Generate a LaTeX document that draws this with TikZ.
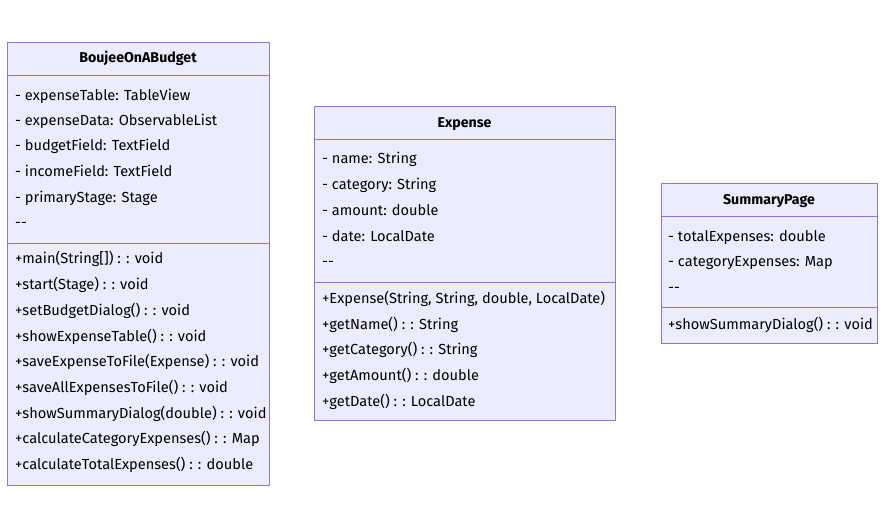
\documentclass[tikz,border=0pt]{standalone}
\usepackage{fontspec}
\setmainfont{Fira Sans}
\definecolor{cfill}{HTML}{ECECFF}
\definecolor{cline}{HTML}{9370DB}
\begin{document}
\begin{tikzpicture}[x=1pt,y=-1pt,
  classbox/.style={draw=cline,fill=cfill,line width=0.9pt,inner sep=0pt,anchor=north west},
  member/.style={anchor=base west,inner sep=0pt,yshift=-5pt,font=\fontsize{14.6}{16}\selectfont,text=black},
  title/.style={anchor=base,inner sep=0pt,yshift=-5pt,font=\fontsize{14.2}{16}\selectfont\bfseries,text=black},
  divider/.style={draw=cline,line width=0.9pt}]
\useasboundingbox (0,0) rectangle (885,527);
% BoujeeOnABudget
\node[classbox,minimum width=262pt,minimum height=443pt] (b1) at (7,42) {};
\node[title] (b1t) at (138,58) {BoujeeOnABudget};
\draw[divider] (b1.west |- 0,75) -- (b1.east |- 0,75);
\draw[divider] (b1.west |- 0,243) -- (b1.east |- 0,243);
\node[member] (b1a1) at (15,95) {- expenseTable: TableView};
\node[member] (b1a2) at (15,120) {- expenseData: ObservableList};
\node[member] (b1a3) at (15,145) {- budgetField: TextField};
\node[member] (b1a4) at (15,171) {- incomeField: TextField};
\node[member] (b1a5) at (15,197) {- primaryStage: Stage};
\node[member] (b1a6) at (15,222) {-{}-};
\node[member] (b1m1) at (15,258) {+main(String[]) : : void};
\node[member] (b1m2) at (15,284) {+start(Stage) : : void};
\node[member] (b1m3) at (15,310) {+setBudgetDialog() : : void};
\node[member] (b1m4) at (15,336) {+showExpenseTable() : : void};
\node[member] (b1m5) at (15,361) {+saveExpenseToFile(Expense) : : void};
\node[member] (b1m6) at (15,387) {+saveAllExpensesToFile() : : void};
\node[member] (b1m7) at (15,413) {+showSummaryDialog(double) : : void};
\node[member] (b1m8) at (15,438) {+calculateCategoryExpenses() : : Map};
\node[member] (b1m9) at (15,464) {+calculateTotalExpenses() : : double};
% Expense
\node[classbox,minimum width=301pt,minimum height=314pt] (b2) at (314,106) {};
\node[title] (b2t) at (464.5,122) {Expense};
\draw[divider] (b2.west |- 0,139) -- (b2.east |- 0,139);
\draw[divider] (b2.west |- 0,282) -- (b2.east |- 0,282);
\node[member] (b2a1) at (322,158) {- name: String};
\node[member] (b2a2) at (322,184) {- category: String};
\node[member] (b2a3) at (322,210) {- amount: double};
\node[member] (b2a4) at (322,236) {- date: LocalDate};
\node[member] (b2a5) at (322,261) {-{}-};
\node[member] (b2m1) at (322,298) {+Expense(String, String, double, LocalDate)};
\node[member] (b2m2) at (322,324) {+getName() : : String};
\node[member] (b2m3) at (322,349) {+getCategory() : : String};
\node[member] (b2m4) at (322,375) {+getAmount() : : double};
\node[member] (b2m5) at (322,401) {+getDate() : : LocalDate};
% SummaryPage
\node[classbox,minimum width=216pt,minimum height=160pt] (b3) at (661,183) {};
\node[title] (b3t) at (769,199) {SummaryPage};
\draw[divider] (b3.west |- 0,216) -- (b3.east |- 0,216);
\draw[divider] (b3.west |- 0,307) -- (b3.east |- 0,307);
\node[member] (b3a1) at (668,236) {- totalExpenses: double};
\node[member] (b3a2) at (668,261) {- categoryExpenses: Map};
\node[member] (b3a3) at (668,287) {-{}-};
\node[member] (b3m1) at (668,324) {+showSummaryDialog() : : void};
\end{tikzpicture}
\end{document}
